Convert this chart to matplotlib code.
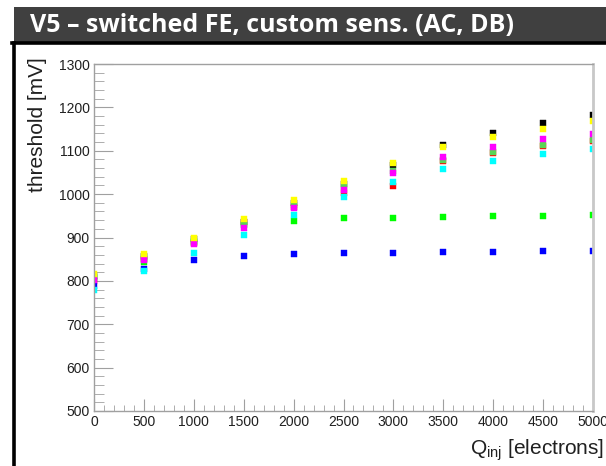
import matplotlib
matplotlib.use('Agg')
import matplotlib.pyplot as plt
from matplotlib.patches import Rectangle
from matplotlib.lines import Line2D
from matplotlib.ticker import MultipleLocator

plt.rcParams['font.family'] = ['Liberation Sans', 'DejaVu Sans']
plt.rcParams['mathtext.fontset'] = 'custom'
plt.rcParams['mathtext.rm'] = 'Liberation Sans'

# injected charge [electrons]
q_inj = [0, 500, 1000, 1500, 2000, 2500, 3000, 3500, 4000, 4500, 5000]

# threshold [mV] per curve (ROOT colour scheme)
thr_black = [812, 858, 896, 936, 979, 1024, 1067, 1113, 1141, 1163, 1183]
thr_red = [800, 850, 887, 935, 971, 1003, 1018, 1076, 1095, 1112, 1123]
thr_green = [810, 844, 889, 928, 938, 944, 946, 948, 949, 949, 951]
thr_blue = [789, 827, 849, 858, 862, 864, 865, 866, 867, 868, 869]
thr_yellow = [817, 861, 900, 942, 986, 1030, 1071, 1108, 1132, 1151, 1168]
thr_magenta = [803, 848, 884, 923, 968, 1009, 1048, 1085, 1108, 1126, 1139]
thr_cyan = [780, 822, 864, 906, 951, 993, 1029, 1057, 1076, 1093, 1104]
thr_green8 = [807, 855, 891, 931, 974, 1017, 1053, 1078, 1097, 1114, 1125]

series = [
    (thr_black, '#000000'),
    (thr_red, '#ff0000'),
    (thr_green, '#00ff00'),
    (thr_blue, '#0000ff'),
    (thr_green8, '#59d454'),
    (thr_magenta, '#ff00ff'),
    (thr_cyan, '#00ffff'),
    (thr_yellow, '#ffff00'),
]

fig = plt.figure(figsize=(6.06, 4.66), dpi=100)

# slide title bar
fig.patches.append(Rectangle((14 / 606, 1 - 42 / 466), 592 / 606, 35 / 466,
                             transform=fig.transFigure, facecolor='#404040',
                             edgecolor='none', zorder=0))
fig.text(30 / 606, 1 - 25 / 466, 'V5 – switched FE, custom sens. (AC, DB)',
         color='white', fontsize=18, fontweight='bold', va='center', ha='left',
         family=['Open Sans', 'DejaVu Sans'])

# black frame around the canvas
fig.add_artist(Line2D([13.5 / 606, 13.5 / 606], [0, 1 - 43 / 466],
                      transform=fig.transFigure, color='black', lw=2.6))
fig.add_artist(Line2D([12 / 606, 1], [1 - 43 / 466, 1 - 43 / 466],
                      transform=fig.transFigure, color='black', lw=2.6))

ax = fig.add_axes([94 / 606, 1 - 411 / 466, 499 / 606, 347 / 466])
for y, c in series:
    ax.plot(q_inj, y, linestyle='none', marker='s', ms=4.3, mfc=c, mec=c,
            mew=0.3)

ax.set_xlim(0, 5000)
ax.set_ylim(500, 1300)
ax.xaxis.set_major_locator(MultipleLocator(500))
ax.xaxis.set_minor_locator(MultipleLocator(100))
ax.yaxis.set_major_locator(MultipleLocator(100))
ax.yaxis.set_minor_locator(MultipleLocator(20))

gray = '#a0a0a0'
for s in ax.spines.values():
    s.set_color(gray)
    s.set_linewidth(1.0)
ax.spines['right'].set_linewidth(2.0)
ax.spines['right'].set_color('#c8c8c8')

ax.tick_params(axis='both', which='both', direction='in', color=gray,
               labelsize=10, labelcolor='#202020')
ax.tick_params(axis='x', which='major', length=9, pad=3)
ax.tick_params(axis='x', which='minor', length=4.5)
ax.tick_params(axis='y', which='major', length=14, pad=3)
ax.tick_params(axis='y', which='minor', length=7)

ax.set_ylabel('threshold [mV]', fontsize=15, color='#202020')
ax.yaxis.set_label_coords(-0.095, 0.825)
ax.set_xlabel(r'Q$_{\mathrm{inj}}$ [electrons]', fontsize=15, color='#202020',
              ha='right')
ax.xaxis.set_label_coords(1.022, -0.075)

fig.savefig('out.png', dpi=100)
